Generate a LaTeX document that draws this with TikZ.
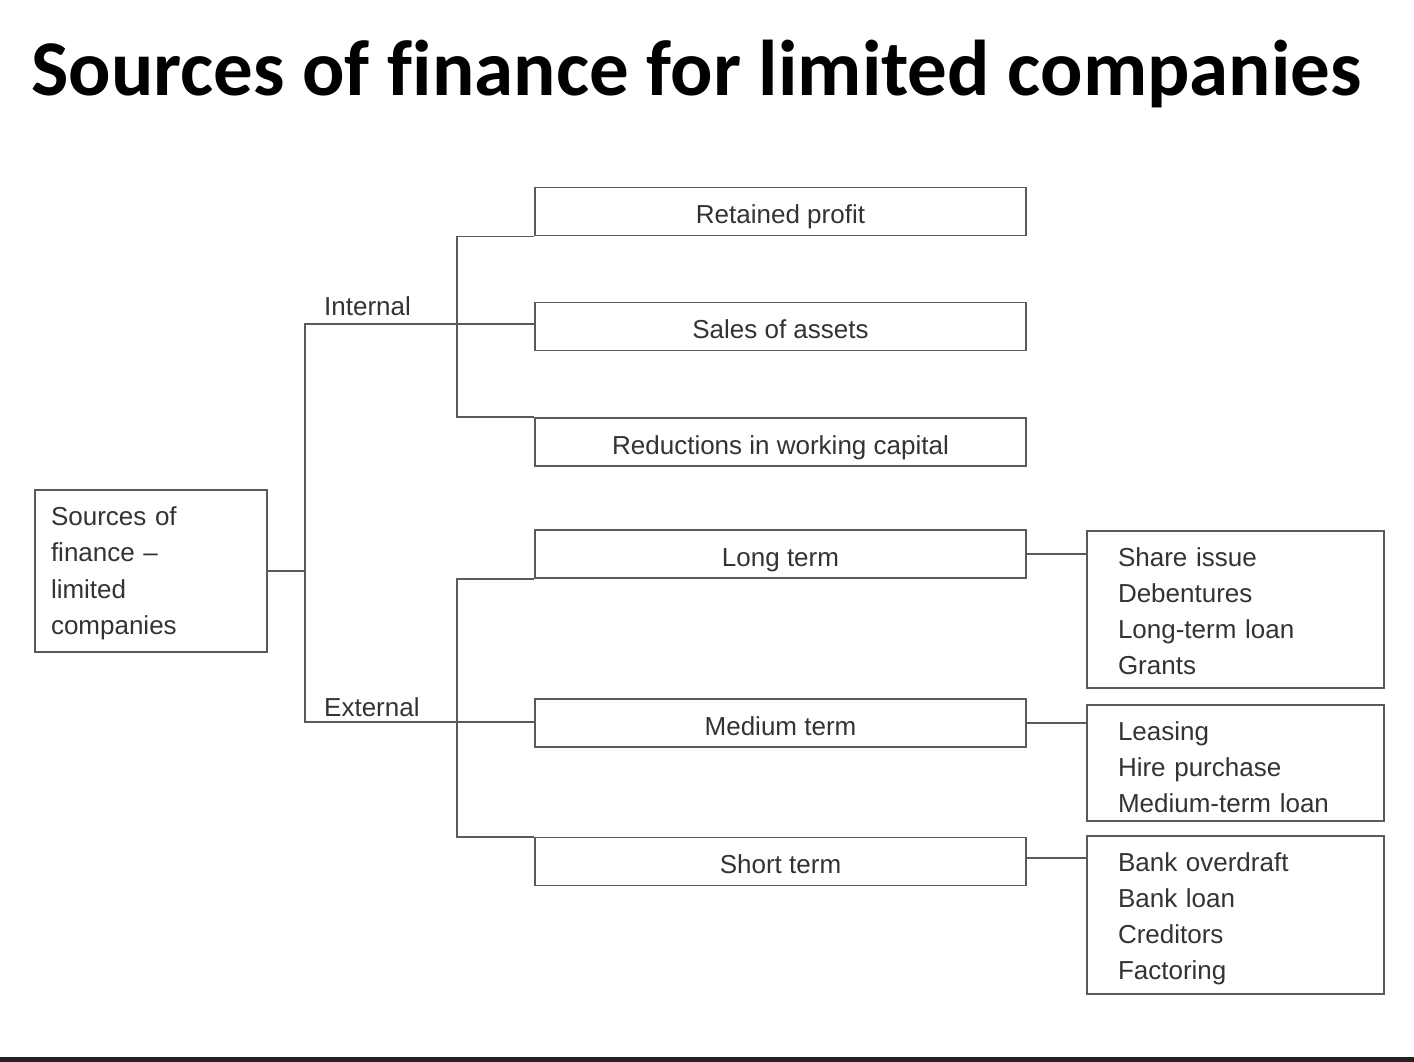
\documentclass[tikz,border=0pt]{standalone}
\usepackage{fontspec}
\setmainfont{Liberation Sans}
\newfontfamily\titlefont[Ligatures=NoCommon]{Carlito}
\definecolor{linec}{HTML}{5A5A5A}
\definecolor{txtc}{HTML}{333333}
\definecolor{rulec}{HTML}{222222}
\begin{document}
\begin{tikzpicture}[x=1pt,y=-1pt,
  box/.style={draw=linec, line width=1.8pt, text=txtc, font=\fontsize{26}{36.3}\selectfont, inner sep=0pt},
  midbox/.style={box, minimum width=491pt, minimum height=48pt, text height=24pt, text depth=0pt},
  listbox/.style={box, minimum width=297pt, text width=235pt, inner xsep=31pt, align=left, text height=35pt},
  link/.style={draw=linec, line width=1.8pt},
  lbl/.style={text=txtc, font=\fontsize{26}{36}\selectfont, inner sep=0pt, anchor=base west}]
\useasboundingbox (0,0) rectangle (1414,1062);
\fill[white] (0,0) rectangle (1414,1062);
\node[anchor=base west, inner sep=0pt, font=\titlefont\bfseries\fontsize{79}{80}\selectfont] (title) at (31,96) {Sources of finance for limited companies};
\fill[rulec] (0,1057) rectangle (1414,1062);

\node[box, minimum width=232pt, text width=200pt, inner xsep=16pt, align=left,
  text height=35.5pt, text depth=126.5pt] (src) at (151,571) {Sources of\\finance --\\limited\\companies};

\node[midbox] (rp) at (780.5,211.5) {Retained profit};
\node[midbox] (sa) at (780.5,326.5) {Sales of assets};
\node[midbox] (rw) at (780.5,442) {Reductions in working capital};
\node[midbox] (lt) at (780.5,554) {Long term};
\node[midbox] (mt) at (780.5,723) {Medium term};
\node[midbox] (st) at (780.5,861.5) {Short term};

\node[listbox, text depth=122pt] (ll) at (1235.5,609.5) {Share issue\\Debentures\\Long-term loan\\Grants};
\node[listbox, text depth=81pt] (ml) at (1235.5,763) {Leasing\\Hire purchase\\Medium-term loan};
\node[listbox, text depth=123pt] (sl) at (1235.5,915) {Bank overdraft\\Bank loan\\Creditors\\Factoring};

\node[lbl] (int) at (324,315) {Internal};
\node[lbl] (ext) at (324,716) {External};

\coordinate (t1) at (305,324);
\coordinate (t2) at (305,722);
\coordinate (ib) at (457,0);
\coordinate (sc) at (1026,858);

\draw[link] (src.east) -- (src.east -| t1);
\draw[link] (t1 -| sa.west) -- (t1) -- (t2) -- (t2 -| mt.west);
\draw[link] (rp.south west) -- (rp.south west -| ib) -- (rw.north west -| ib) -- (rw.north west);
\draw[link] (lt.south west) -- (lt.south west -| ib) -- (st.north west -| ib) -- (st.north west);
\draw[link] (lt.east) -- (lt.east -| ll.west);
\draw[link] (mt.east) -- (mt.east -| ml.west);
\draw[link] (sc) -- (sc -| sl.west);
\end{tikzpicture}
\end{document}
